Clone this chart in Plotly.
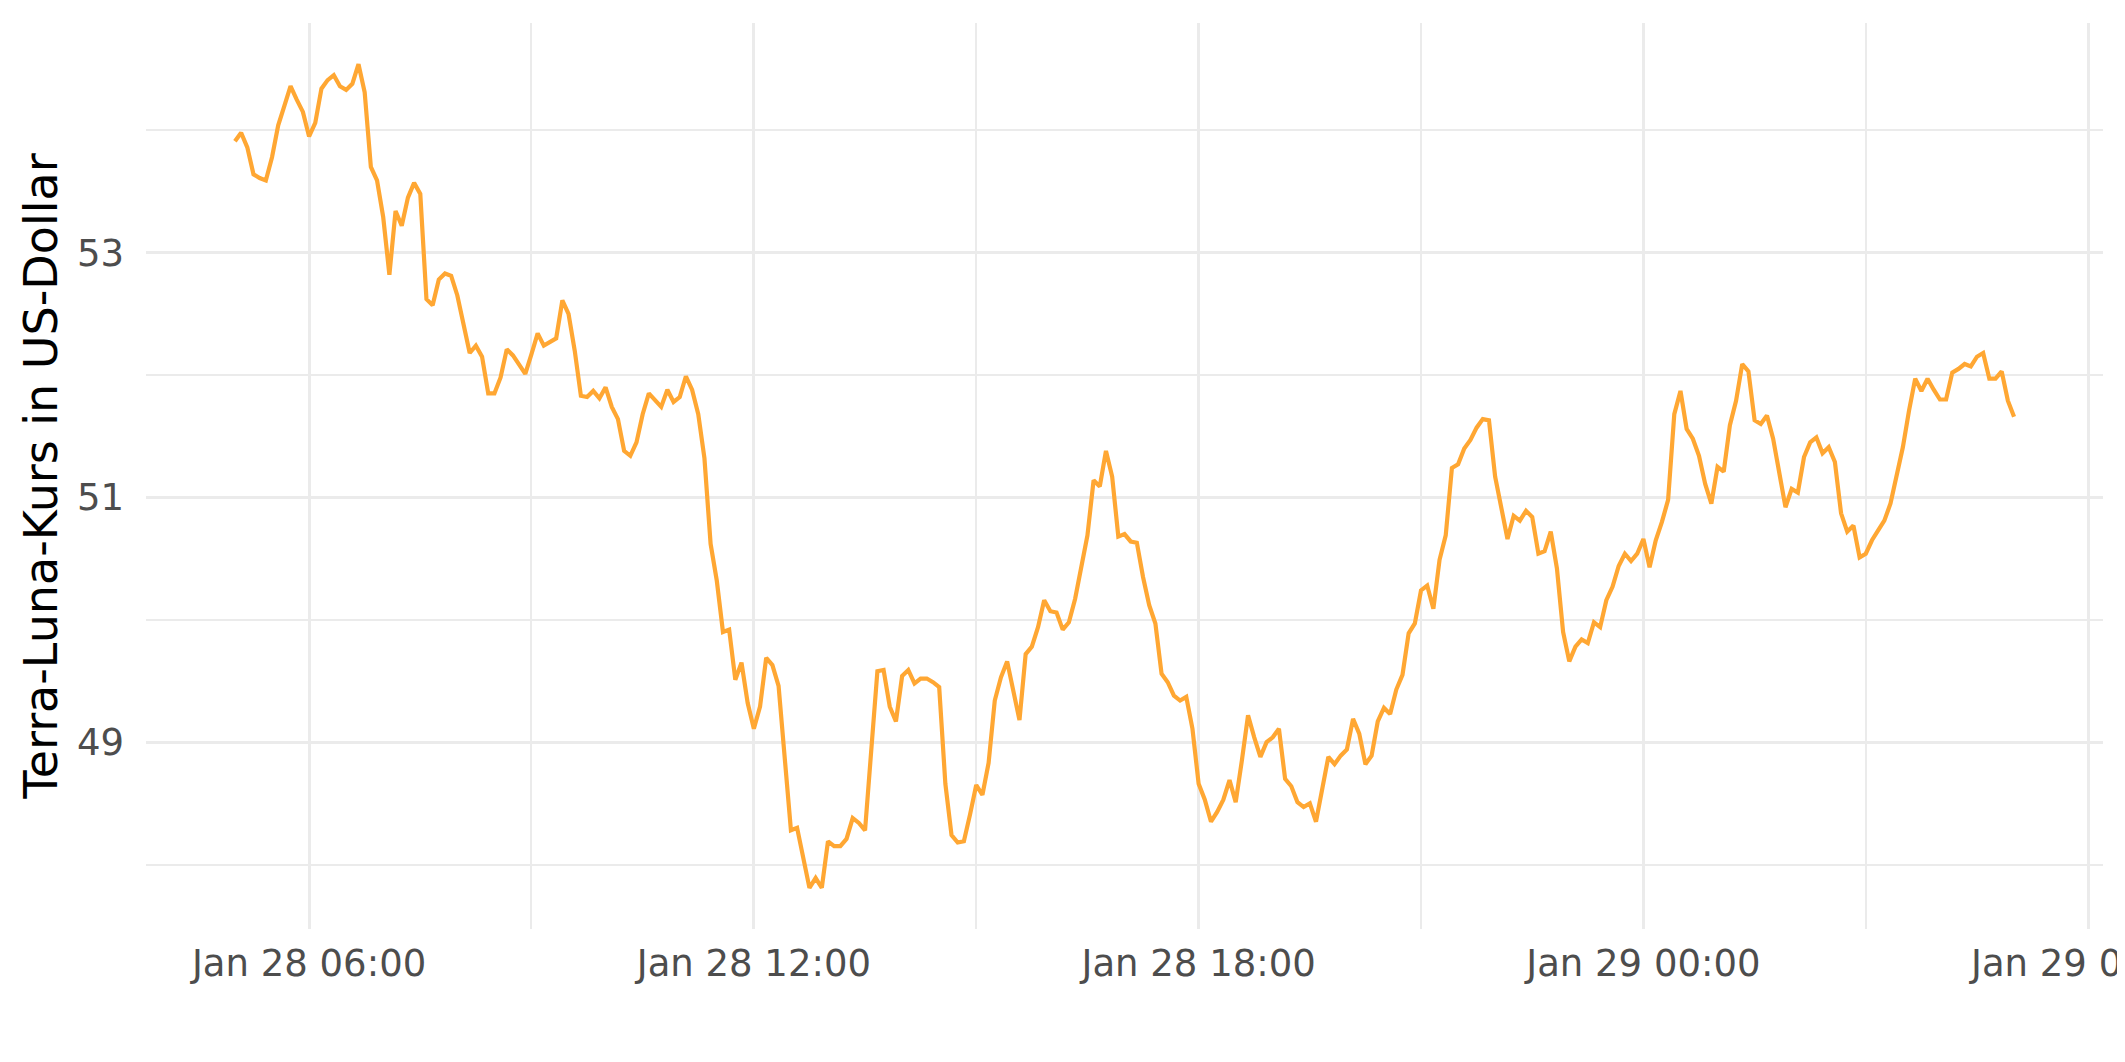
import pandas as pd
import plotly.graph_objects as go

start_time = "2022-01-28 05:00"
step = "5min"
prices = [
    53.91, 53.98, 53.86, 53.64, 53.61, 53.59, 53.78, 54.04, 54.20, 54.36,
    54.25, 54.15, 53.95, 54.06, 54.34, 54.41, 54.45, 54.36, 54.33, 54.38,
    54.54, 54.31, 53.70, 53.59, 53.29, 52.82, 53.34, 53.22, 53.45, 53.57,
    53.48, 52.62, 52.57, 52.78, 52.83, 52.81, 52.65, 52.42, 52.18, 52.24,
    52.15, 51.85, 51.85, 51.98, 52.21, 52.16, 52.09, 52.01, 52.17, 52.34,
    52.24, 52.27, 52.30, 52.61, 52.50, 52.20, 51.83, 51.82, 51.87, 51.81,
    51.90, 51.74, 51.64, 51.38, 51.34, 51.45, 51.68, 51.85, 51.80, 51.74,
    51.88, 51.78, 51.82, 51.99, 51.88, 51.68, 51.32, 50.62, 50.32, 49.90,
    49.92, 49.51, 49.65, 49.32, 49.11, 49.29, 49.69, 49.63, 49.46, 48.85,
    48.28, 48.30, 48.06, 47.81, 47.89, 47.81, 48.19, 48.15, 48.15, 48.21,
    48.38, 48.34, 48.28, 48.94, 49.58, 49.59, 49.29, 49.17, 49.54, 49.59,
    49.48, 49.52, 49.52, 49.49, 49.45, 48.66, 48.24, 48.18, 48.19, 48.41,
    48.65, 48.57, 48.83, 49.34, 49.53, 49.66, 49.43, 49.18, 49.72, 49.78,
    49.94, 50.16, 50.07, 50.06, 49.92, 49.98, 50.17, 50.43, 50.69, 51.14,
    51.09, 51.38, 51.17, 50.68, 50.70, 50.64, 50.63, 50.35, 50.12, 49.97,
    49.56, 49.49, 49.38, 49.34, 49.37, 49.11, 48.66, 48.53, 48.35, 48.43,
    48.53, 48.69, 48.51, 48.85, 49.22, 49.04, 48.88, 49.00, 49.04, 49.11,
    48.70, 48.64, 48.51, 48.47, 48.50, 48.35, 48.61, 48.88, 48.82, 48.89,
    48.94, 49.19, 49.07, 48.82, 48.89, 49.17, 49.28, 49.23, 49.43, 49.55,
    49.89, 49.97, 50.24, 50.28, 50.09, 50.49, 50.69, 51.24, 51.27, 51.40,
    51.47, 51.57, 51.64, 51.63, 51.17, 50.92, 50.66, 50.85, 50.81, 50.89,
    50.84, 50.54, 50.56, 50.72, 50.42, 49.90, 49.66, 49.78, 49.84, 49.81,
    49.98, 49.94, 50.16, 50.27, 50.44, 50.54, 50.48, 50.54, 50.66, 50.43,
    50.65, 50.80, 50.98, 51.68, 51.87, 51.56, 51.48, 51.34, 51.11, 50.95,
    51.25, 51.21, 51.59, 51.79, 52.09, 52.03, 51.63, 51.60, 51.67, 51.48,
    51.22, 50.92, 51.07, 51.04, 51.33, 51.45, 51.49, 51.36, 51.41, 51.29,
    50.87, 50.72, 50.77, 50.51, 50.54, 50.65, 50.73, 50.81, 50.95, 51.17,
    51.41, 51.71, 51.97, 51.87, 51.97, 51.88, 51.80, 51.80, 52.02, 52.05,
    52.09, 52.07, 52.15, 52.18, 51.97, 51.97, 52.03, 51.79, 51.66,
]
times = pd.date_range(start_time, periods=len(prices), freq=step)

y_title = "Terra-Luna-Kurs in US-Dollar"
y_ticks = [49, 51, 53]

# ggplot-like 5% expansion
t0, t1 = times[0], times[-1]
dt = (t1 - t0) * 0.05
x_range = [t0 - dt, t1 + dt]
ymin, ymax = min(prices), max(prices)
dy = (ymax - ymin) * 0.05
y_range = [ymin - dy, ymax + dy]

font_family = "DejaVu Sans"
grid_col = "#EBEBEB"

fig = go.Figure()
fig.add_trace(go.Scatter(
    x=times, y=prices, mode="lines",
    line=dict(color="#FFA733", width=4.2),
    hoverinfo="skip", showlegend=False,
))

# page body has an 8px default margin; compensate so the plot lands where the reference has it
fig.update_layout(
    width=2117, height=1054,
    margin=dict(l=138, r=22, t=15, b=133, pad=0),
    plot_bgcolor="white", paper_bgcolor="white",
    font=dict(family=font_family, color="#4D4D4D"),
    showlegend=False,
)
fig.update_xaxes(
    type="date", range=x_range,
    tick0="2022-01-28 00:00", dtick=6 * 3600 * 1000,
    tickformat="%b %d %H:%M",
    tickfont=dict(size=37, color="#4D4D4D", family=font_family),
    showgrid=True, gridcolor=grid_col, gridwidth=3.2,
    minor=dict(showgrid=True, gridcolor=grid_col, gridwidth=1.7,
               dtick=3 * 3600 * 1000, tick0="2022-01-28 00:00"),
    showline=False, zeroline=False, ticks="",
    ticklabelstandoff=9, ticklabeloverflow="allow", automargin=False,
)
fig.update_yaxes(
    range=y_range, tickvals=y_ticks, ticktext=[str(v) for v in y_ticks],
    tickfont=dict(size=37, color="#4D4D4D", family=font_family),
    showgrid=True, gridcolor=grid_col, gridwidth=3.2,
    minor=dict(showgrid=True, gridcolor=grid_col, gridwidth=1.7,
               tickvals=[48, 50, 52, 54]),
    showline=False, zeroline=False, ticks="",
    ticklabelstandoff=21, automargin=False,
    title=dict(text=y_title, font=dict(size=46, color="black", family=font_family),
               standoff=4),
)

fig.write_html("out.html")
